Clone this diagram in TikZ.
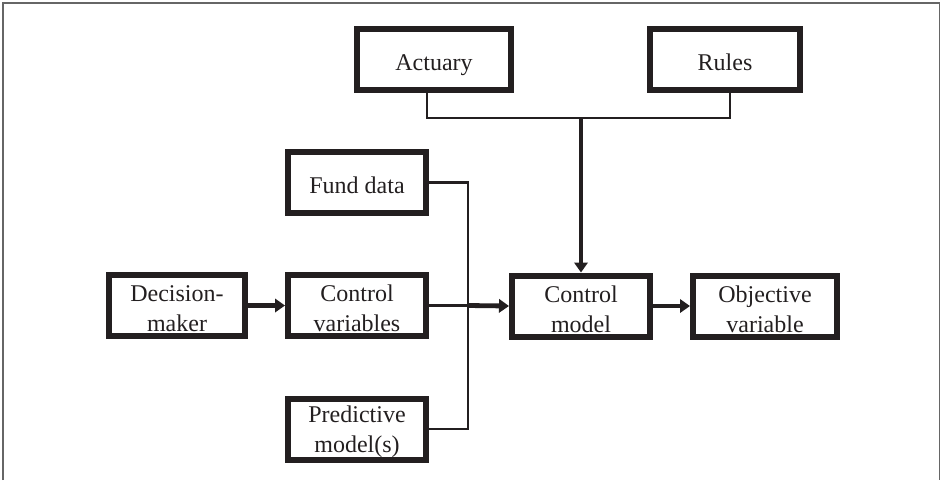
\documentclass[tikz,border=0pt]{standalone}
\usepackage{fontspec}
\setmainfont{Liberation Serif}
\usetikzlibrary{arrows.meta}
\definecolor{ink}{HTML}{231F20}
\newcommand\firstlinestrut{\rule{0pt}{17pt}}
\begin{document}
\begin{tikzpicture}[x=0.75pt,y=-0.75pt,
  box/.style={draw=ink, line width=4.5pt, rectangle, align=center, inner sep=0pt,
    minimum height=45.75pt, text=ink, font=\fontsize{18}{22.5}\selectfont},
  one/.style={text height=17pt, text depth=1pt},
  conn/.style={draw=ink, line width=2.2pt},
  arr/.style={draw=ink, line width=3.6pt, -{Triangle[length=7.5pt,width=10pt]}},
  frame/.style={draw=black!60, line width=1.2pt}]
\useasboundingbox (0,0) rectangle (941,480);
% outer frame
\draw[frame] (3,480) -- (3,3) -- (939.5,3) -- (939.5,480);
% nodes
\node[box, one, minimum width=115.5pt] (act) at (434,59.5) {Actuary};
\node[box, one, minimum width=112.5pt] (rules) at (725,59.5) {Rules};
\node[box, one, minimum width=103.5pt] (fund) at (357,182.5) {Fund data};
\node[box, minimum width=102pt] (dm) at (177,305.5) {\firstlinestrut Decision-\\maker};
\node[box, minimum width=103.5pt] (cv) at (357,305.5) {\firstlinestrut Control\\variables};
\node[box, minimum width=103.5pt] (pm) at (357,429) {\firstlinestrut Predictive\\model(s)};
\node[box, minimum width=103.5pt] (cm) at (581,306) {\firstlinestrut Control\\model};
\node[box, minimum width=108pt] (ov) at (765,306) {\firstlinestrut Objective\\variable};
% junction coordinates
\coordinate (ja) at (427,118);
\coordinate (jr) at (730,118);
\coordinate (jv) at (468,305.5);
% top connectors
\draw[conn] (act.south -| ja) -- (ja) -- (jr) -- (rules.south -| jr);
\draw[arr] (cm.north |- ja) -- (cm.north);
% fund data / predictive bus
\draw[conn] (fund.east) -- (fund.east -| jv) -- (pm.east -| jv) -- (pm.east);
% control variables to control model
\draw[conn] (cv.east) -- (jv);
\draw[arr] (jv) -- (cm.west);
% decision-maker to control variables
\draw[arr] (dm.east) -- (cv.west);
% control model to objective variable
\draw[arr] (cm.east) -- (ov.west);
\end{tikzpicture}
\end{document}
